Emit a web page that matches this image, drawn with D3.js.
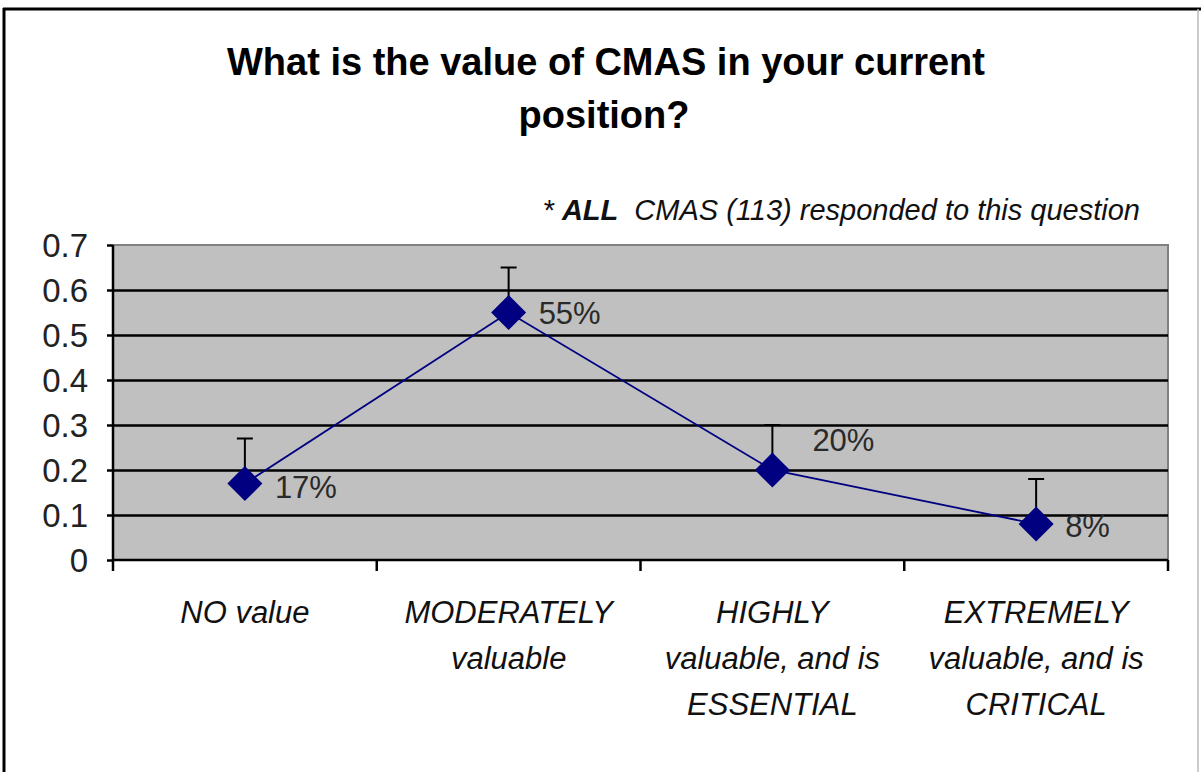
<!DOCTYPE html>
<html>
<head>
<meta charset="utf-8">
<script src="https://cdn.jsdelivr.net/npm/d3@7"></script>
<style>
  body { margin: 0; background: #fff; }
  text { font-family: "Liberation Sans", Arial, sans-serif; }
</style>
</head>
<body>
<script>
/* chart data */
var categories = ["NO value", "MODERATELY valuable", "HIGHLY valuable, and is ESSENTIAL", "EXTREMELY valuable, and is CRITICAL"];
var categoryLines = [
    ["NO value"],
    ["MODERATELY", "valuable"],
    ["HIGHLY", "valuable, and is", "ESSENTIAL"],
    ["EXTREMELY", "valuable, and is", "CRITICAL"]
];
var shares = [0.17, 0.55, 0.20, 0.08];
var errorPlus = [0.10, 0.10, 0.10, 0.10];
var pointLabels = ["17%", "55%", "20%", "8%"];
var yTicks = [0, 0.1, 0.2, 0.3, 0.4, 0.5, 0.6, 0.7];

// label nudges (dx, dy) relative to each marker, like Excel placed them
var labelNudge = [[30, 14], [30, 11], [40, -19], [29, 13]];

var W = 1201, H = 772;
var margin = {top: 245, right: 33, bottom: 212, left: 113},
    width = W - margin.left - margin.right,
    height = H - margin.top - margin.bottom;

var svg = d3.select("body").append("svg")
    .attr("width", W)
    .attr("height", H);

/* outer frame */
svg.append("line").attr("x1", 4).attr("x2", 4).attr("y1", 8).attr("y2", H)
    .attr("stroke", "#000").attr("stroke-width", 3);
svg.append("line").attr("x1", 3).attr("x2", W).attr("y1", 9).attr("y2", 9)
    .attr("stroke", "#000").attr("stroke-width", 3);
svg.append("line").attr("x1", 1198).attr("x2", 1198).attr("y1", 9).attr("y2", H)
    .attr("stroke", "#bbb").attr("stroke-width", 1.5);

/* titles */
svg.append("text")
    .attr("x", 606).attr("y", 75)
    .attr("text-anchor", "middle")
    .attr("font-size", "38px").attr("font-weight", "bold")
    .text("What is the value of CMAS in your current");
svg.append("text")
    .attr("x", 604).attr("y", 128)
    .attr("text-anchor", "middle")
    .attr("font-size", "38px").attr("font-weight", "bold")
    .text("position?");

var sub = svg.append("text")
    .attr("x", 1140).attr("y", 220)
    .attr("text-anchor", "end")
    .attr("font-size", "29px").attr("font-style", "italic")
    .attr("fill", "#111")
    .style("white-space", "pre");
sub.append("tspan").text("* ");
sub.append("tspan").attr("font-weight", "bold").text("ALL");
sub.append("tspan").text("  CMAS (113) responded to this question");

var g = svg.append("g")
    .attr("transform", "translate(" + margin.left + "," + margin.top + ")");

var x = d3.scaleBand().domain(categories).range([0, width]).padding(0);
var y = d3.scaleLinear().domain([0, 0.7]).range([height, 0]);

/* plot area */
g.append("rect")
    .attr("width", width).attr("height", height)
    .attr("fill", "#c0c0c0");
g.append("path")
    .attr("d", "M0,0H" + width + "V" + height)
    .attr("fill", "none").attr("stroke", "#808080").attr("stroke-width", 2);

/* gridlines */
g.append("g")
    .attr("class", "grid")
    .call(d3.axisLeft(y).tickValues(yTicks.slice(1, -1)).tickSize(-width).tickFormat(""))
    .call(function(s) { s.select(".domain").remove(); })
    .selectAll("line")
    .attr("stroke", "#000").attr("stroke-width", 2.5);

/* y axis */
var yAxis = g.append("g")
    .call(d3.axisLeft(y).tickValues(yTicks).tickSize(6).tickPadding(19)
        .tickFormat(function(d) { return d === 0 ? "0" : d3.format(".1f")(d); }));
yAxis.select(".domain").attr("stroke", "#000").attr("stroke-width", 2.5).attr("d", "M0,0V" + height);
yAxis.selectAll(".tick line").attr("stroke", "#000").attr("stroke-width", 2.5);
yAxis.selectAll("text")
    .attr("font-size", "33px").attr("fill", "#222")
    .attr("font-family", "'Liberation Sans', Arial, sans-serif")
    .attr("dy", "0.36em");

/* x axis: baseline and boundary ticks */
g.append("line")
    .attr("x1", 0).attr("x2", width).attr("y1", height).attr("y2", height)
    .attr("stroke", "#000").attr("stroke-width", 2.5);
var edges = categories.map(function(c) { return x(c); }).concat([width]);
g.selectAll(".xtick").data(edges).enter().append("line")
    .attr("class", "xtick")
    .attr("x1", function(d) { return d; }).attr("x2", function(d) { return d; })
    .attr("y1", height).attr("y2", height + 11)
    .attr("stroke", "#000").attr("stroke-width", 2.5);

var xl = g.selectAll(".xlabel").data(categoryLines).enter().append("text")
    .attr("class", "xlabel")
    .attr("text-anchor", "middle")
    .attr("font-size", "31px").attr("font-style", "italic").attr("fill", "#111")
    .attr("transform", function(d, i) {
        return "translate(" + (x(categories[i]) + x.bandwidth() / 2) + "," + (height + 63) + ")";
    });
xl.selectAll("tspan").data(function(d) { return d; }).enter().append("tspan")
    .attr("x", 0)
    .attr("y", function(d, i) { return i * 46; })
    .text(function(d) { return d; });

var cx = function(i) { return x(categories[i]) + x.bandwidth() / 2; };

/* error bars (plus only) */
var eb = g.selectAll(".err").data(shares).enter().append("g").attr("class", "err");
eb.append("line")
    .attr("x1", function(d, i) { return cx(i); }).attr("x2", function(d, i) { return cx(i); })
    .attr("y1", function(d) { return y(d); })
    .attr("y2", function(d, i) { return y(d + errorPlus[i]); })
    .attr("stroke", "#000").attr("stroke-width", 2);
eb.append("line")
    .attr("x1", function(d, i) { return cx(i) - 8; }).attr("x2", function(d, i) { return cx(i) + 8; })
    .attr("y1", function(d, i) { return y(d + errorPlus[i]); })
    .attr("y2", function(d, i) { return y(d + errorPlus[i]); })
    .attr("stroke", "#000").attr("stroke-width", 2);

/* series line */
var line = d3.line()
    .x(function(d, i) { return cx(i); })
    .y(function(d) { return y(d); });
g.append("path")
    .datum(shares)
    .attr("d", line)
    .attr("fill", "none")
    .attr("stroke", "#000080")
    .attr("stroke-width", 1.8);

/* diamond markers */
var diamond = d3.symbol().type(d3.symbolSquare).size(2 * 17.5 * 17.5);
g.selectAll(".pt").data(shares).enter().append("path")
    .attr("class", "pt")
    .attr("d", diamond)
    .attr("transform", function(d, i) { return "translate(" + cx(i) + "," + y(d) + ") rotate(45)"; })
    .attr("fill", "#000080");

/* data labels */
g.selectAll(".lbl").data(shares).enter().append("text")
    .attr("class", "lbl")
    .attr("x", function(d, i) { return cx(i) + labelNudge[i][0]; })
    .attr("y", function(d, i) { return y(d) + labelNudge[i][1]; })
    .attr("font-size", "31px").attr("fill", "#2a2a2a")
    .text(function(d, i) { return pointLabels[i]; });
</script>
</body>
</html>
